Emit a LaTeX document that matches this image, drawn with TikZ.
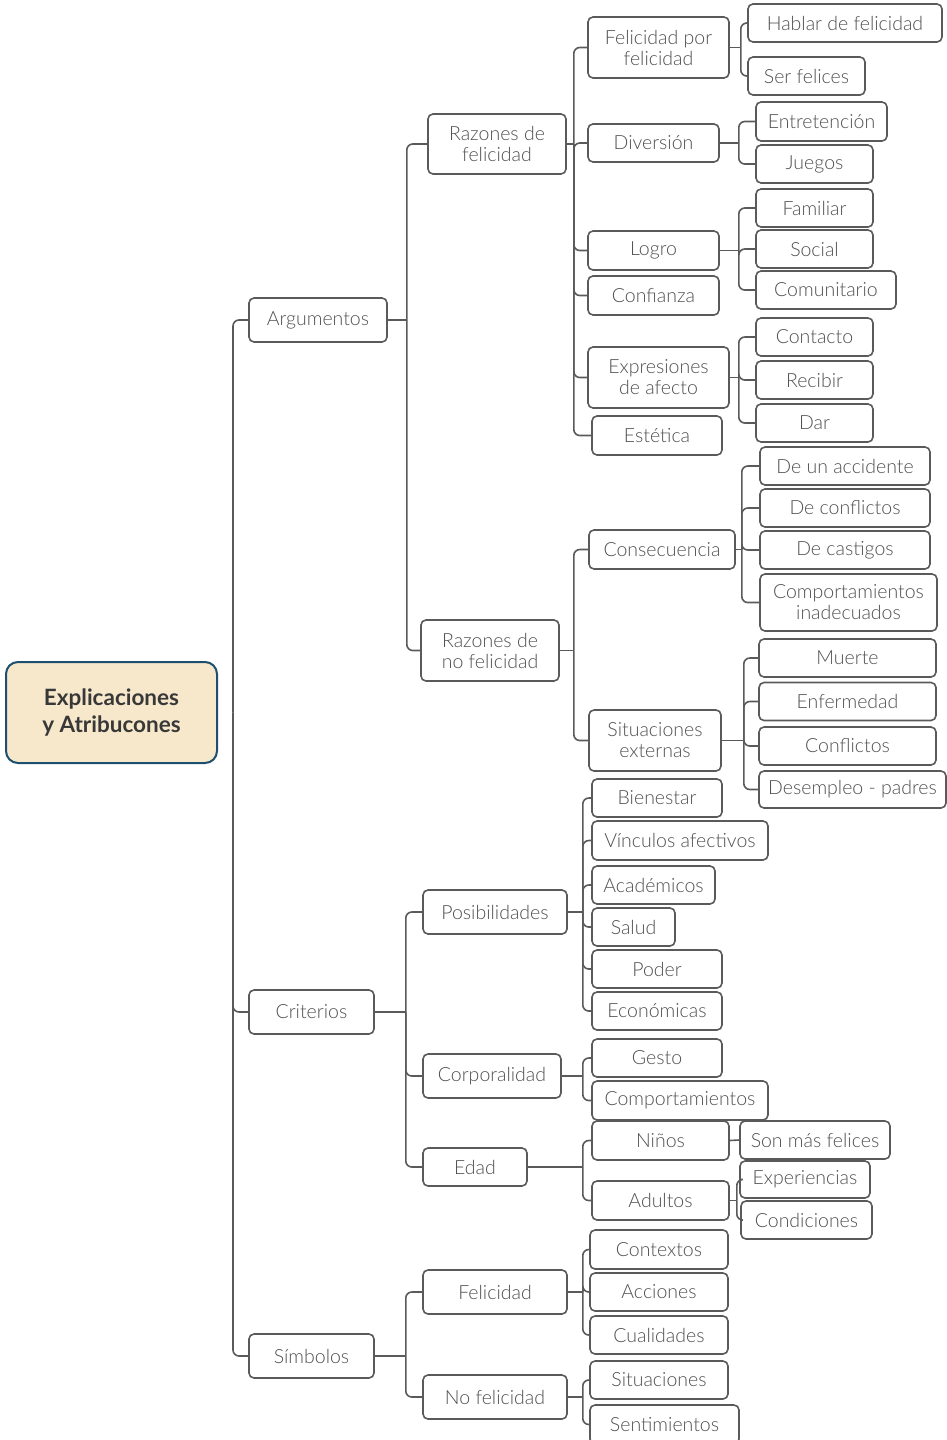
\documentclass[tikz,border=0pt]{standalone}
\usepackage{fontspec}
\IfFontExistsTF{Lato Light}{\setmainfont{Lato Light}[BoldFont={Lato Bold}]}{\setmainfont{Lato}}
\usetikzlibrary{positioning}

\definecolor{linegray}{HTML}{5A5A5A}
\definecolor{txtgray}{HTML}{4F4F4F}
\definecolor{rootfill}{HTML}{F8E8CB}
\definecolor{rootline}{HTML}{1D4F6E}

\tikzset{
  item/.style={draw=linegray, line width=1.6pt, rounded corners=5pt, text=txtgray,
    inner sep=0pt, minimum height=38pt, align=center,
    font=\fontsize{19.5}{21}\selectfont},
  rootbox/.style={draw=rootline, fill=rootfill, line width=2pt, rounded corners=12pt,
    text=black!78, inner sep=0pt, minimum width=211pt, minimum height=101pt,
    align=center, font=\fontsize{22.5}{27}\selectfont\bfseries},
  link/.style={draw=linegray, line width=1.6pt, rounded corners=6pt}
}

\begin{document}
\begin{tikzpicture}[x=1pt, y=-1pt]

    % --- Frame ---
    \useasboundingbox (0,0) rectangle (946,1440);

    % --- Root ---
    \node[rootbox] (root) at (111.5,712.5) {Explicaciones\\y Atribucones};

    % --- First level ---
    \node[item, minimum width=138pt, minimum height=44pt] (arg) at (318,320) {Argumentos};
    \node[item, minimum width=125pt, minimum height=44pt] (crit) at (311.5,1012) {Criterios};
    \node[item, minimum width=125pt, minimum height=44pt] (simb) at (311.5,1356) {Símbolos};

    % --- Second level ---
    \node[item, minimum width=138pt, minimum height=60pt] (razf) at (497,144) {Razones de\\felicidad};
    \node[item, minimum width=138pt, minimum height=61pt] (razn) at (490,650.5) {Razones de\\no felicidad};
    \node[item, minimum width=144pt, minimum height=44pt] (posib) at (495,912) {Posibilidades};
    \node[item, minimum width=138pt, minimum height=44pt] (corpo) at (492,1076) {Corporalidad};
    \node[item, minimum width=104pt] (edad) at (475,1167) {Edad};
    \node[item, minimum width=144pt, minimum height=44pt] (feli) at (495,1292) {Felicidad};
    \node[item, minimum width=144pt, minimum height=44pt] (nofeli) at (495,1397) {No felicidad};

    % --- Third level: razones de felicidad ---
    \node[item, minimum width=141pt, minimum height=61pt] (fpf) at (658.5,47.5) {Felicidad por\\felicidad};
    \node[item, minimum width=131pt] (div) at (653.5,143) {Diversión};
    \node[item, minimum width=131pt, minimum height=39pt] (logro) at (653.5,250.5) {Logro};
    \node[item, minimum width=131pt, minimum height=39pt] (conf) at (653.5,295.5) {Confianza};
    \node[item, minimum width=141pt, minimum height=61pt] (expr) at (658.5,377.5) {Expresiones\\de afecto};
    \node[item, minimum width=130pt, minimum height=39pt] (est) at (657,435.5) {Estética};

    % --- Third level: razones de no felicidad ---
    \node[item, minimum width=146pt, minimum height=39pt] (cons) at (662,549.5) {Consecuencia};
    \node[item, minimum width=132pt, minimum height=61pt] (sitex) at (655,740.5) {Situaciones\\externas};

    % --- Third level: criterios ---
    \node[item, minimum width=130pt] (bien) at (657,798) {Bienestar};
    \node[item, minimum width=176pt, minimum height=39pt] (vinc) at (680,840.5) {Vínculos afectivos};
    \node[item, minimum width=123pt] (acad) at (653.5,885) {Académicos};
    \node[item, minimum width=83pt] (salud) at (633.5,927) {Salud};
    \node[item, minimum width=130pt] (poder) at (657,969) {Poder};
    \node[item, minimum width=130pt] (econ) at (657,1011) {Económicas};
    \node[item, minimum width=130pt] (gesto) at (657,1058) {Gesto};
    \node[item, minimum width=176pt, minimum height=39pt] (comp) at (680,1100.5) {Comportamientos};
    \node[item, minimum width=137pt, minimum height=39pt] (ninos) at (660.5,1140.5) {Niños};
    \node[item, minimum width=137pt, minimum height=39pt] (adult) at (660.5,1200.5) {Adultos};

    % --- Third level: simbolos ---
    \node[item, minimum width=138pt, minimum height=39pt] (ctx) at (659,1249.5) {Contextos};
    \node[item, minimum width=138pt] (acc) at (659,1292) {Acciones};
    \node[item, minimum width=138pt] (cual) at (659,1335) {Cualidades};
    \node[item, minimum width=138pt] (sit) at (659,1380) {Situaciones};
    \node[item, minimum width=149pt, minimum height=39pt] (sent) at (664.5,1424.5) {Sentimientos};

    % --- Fourth level ---
    \node[item, minimum width=194pt] (hab) at (845,23) {Hablar de felicidad};
    \node[item, minimum width=117pt] (ser) at (806.5,76) {Ser felices};
    \node[item, minimum width=131pt, minimum height=39pt] (ent) at (821.5,121.5) {Entretención};
    \node[item, minimum width=117pt] (jue) at (814.5,164) {Juegos};
    \node[item, minimum width=117pt] (fam) at (814.5,208) {Familiar};
    \node[item, minimum width=117pt] (soc) at (814.5,249) {Social};
    \node[item, minimum width=140pt] (comu) at (826,290) {Comunitario};
    \node[item, minimum width=117pt] (cont) at (814.5,337) {Contacto};
    \node[item, minimum width=117pt] (rec) at (814.5,380) {Recibir};
    \node[item, minimum width=117pt] (dar) at (814.5,423) {Dar};
    \node[item, minimum width=170pt] (accid) at (845,466) {De un accidente};
    \node[item, minimum width=170pt] (dconf) at (845,508) {De conflictos};
    \node[item, minimum width=170pt] (cast) at (845,550) {De castigos};
    \node[item, minimum width=177pt, minimum height=57pt] (compin) at (848.5,602.5) {Comportamientos\\inadecuados};
    \node[item, minimum width=177pt] (muer) at (847.5,658) {Muerte};
    \node[item, minimum width=177pt] (enf) at (847.5,701.5) {Enfermedad};
    \node[item, minimum width=177pt] (confl) at (847.5,746) {Conflictos};
    \node[item, minimum width=187pt, minimum height=37pt] (desem) at (852.5,789.5) {Desempleo - padres};
    \node[item, minimum width=150pt] (sonmas) at (815,1140) {Son más felices};
    \node[item, minimum width=130pt, minimum height=37pt] (exper) at (805,1179.5) {Experiencias};
    \node[item, minimum width=131pt] (condi) at (806.5,1220) {Condiciones};

    % --- Connectors ---
    % the trunk of the first level is not joined to the root box
    \path (root.east) -- ++(15,0) coordinate (jroot);
    \foreach \c in {arg,crit,simb} \draw[link] (jroot) |- (\c.west);

    \draw[link] (arg.east) -- ++(19,0) coordinate (jarg);
    \foreach \c in {razf,razn} \draw[link] (jarg) |- (\c.west);

    \draw[link] (crit.east) -- ++(31,0) coordinate (jcrit);
    \foreach \c in {posib,corpo,edad} \draw[link] (jcrit) |- (\c.west);

    \draw[link] (simb.east) -- ++(31,0) coordinate (jsimb);
    \foreach \c in {feli,nofeli} \draw[link] (jsimb) |- (\c.west);

    \draw[link] (razf.east) -- ++(7,0) coordinate (jrazf);
    \foreach \c in {fpf,div,logro,conf,expr,est} \draw[link] (jrazf) |- (\c.west);

    \draw[link] (razn.east) -- ++(14,0) coordinate (jrazn);
    \foreach \c in {cons,sitex} \draw[link] (jrazn) |- (\c.west);

    \draw[link] (posib.east) -- ++(15,0) coordinate (jposib);
    \foreach \c in {bien,vinc,acad,salud,poder,econ} \draw[link] (jposib) |- (\c.west);

    \draw[link] (corpo.east) -- ++(21,0) coordinate (jcorpo);
    \foreach \c in {gesto,comp} \draw[link] (jcorpo) |- (\c.west);

    \draw[link] (edad.east) -- ++(55,0) coordinate (jedad);
    \foreach \c in {ninos,adult} \draw[link] (jedad) |- (\c.west);

    \draw[link] (feli.east) -- ++(15,0) coordinate (jfeli);
    \foreach \c in {ctx,acc,cual} \draw[link] (jfeli) |- (\c.west);

    \draw[link] (nofeli.east) -- ++(15,0) coordinate (jnofeli);
    \foreach \c in {sit,sent} \draw[link] (jnofeli) |- (\c.west);

    \draw[link] (fpf.east) -- ++(11,0) coordinate (jfpf);
    \foreach \c in {hab,ser} \draw[link] (jfpf) |- (\c.west);

    \draw[link] (div.east) -- ++(19,0) coordinate (jdiv);
    \foreach \c in {ent,jue} \draw[link] (jdiv) |- (\c.west);

    \draw[link] (logro.east) -- ++(19,0) coordinate (jlogro);
    \foreach \c in {fam,soc,comu} \draw[link] (jlogro) |- (\c.west);

    \draw[link] (expr.east) -- ++(9,0) coordinate (jexpr);
    \foreach \c in {cont,rec,dar} \draw[link] (jexpr) |- (\c.west);

    \draw[link] (cons.east) -- ++(6,0) coordinate (jcons);
    \foreach \c in {accid,dconf,cast,compin} \draw[link] (jcons) |- (\c.west);

    \draw[link] (sitex.east) -- ++(22,0) coordinate (jsitex);
    \foreach \c in {muer,enf,confl,desem} \draw[link] (jsitex) |- (\c.west);

    \draw[link] (ninos.east) -- (sonmas.west);

    \draw[link] (adult.east) -- ++(7,0) coordinate (jadult);
    \foreach \c in {exper,condi} \draw[link] (jadult) |- (\c.west);

\end{tikzpicture}
\end{document}
